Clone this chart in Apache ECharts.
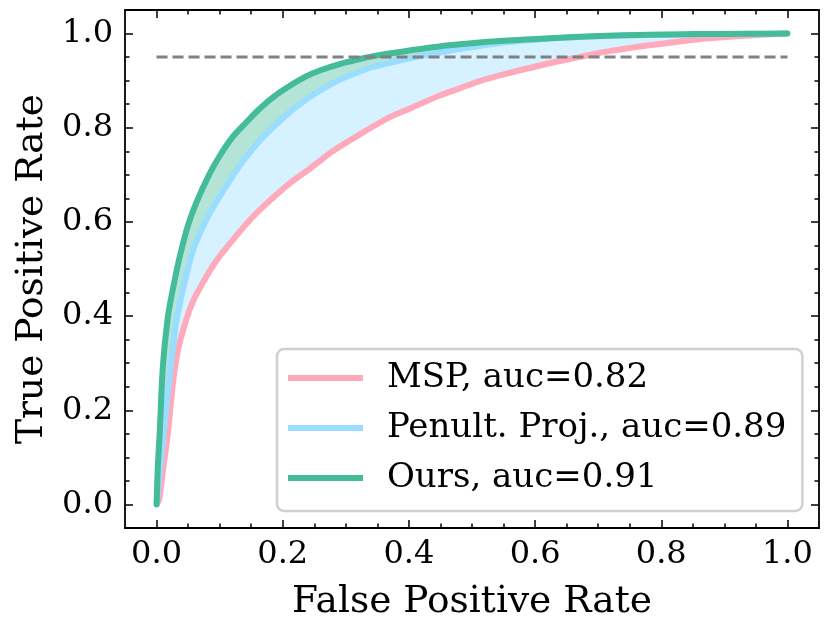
<!DOCTYPE html>
<html>
<head>
<meta charset="utf-8">
<script src="https://cdn.jsdelivr.net/npm/echarts@6/dist/echarts.min.js"></script>
<style>
html,body{margin:0;padding:0;background:#fff;}
#chart{width:831px;height:632px;}
</style>
</head>
<body>
<div id="chart"></div>
<script>
// ---- data ----
const mspFPR = [0, 0.004, 0.011, 0.018, 0.026, 0.034, 0.047, 0.058, 0.073, 0.095, 0.121, 0.152, 0.180, 0.211, 0.242, 0.279, 0.310, 0.332, 0.369, 0.400, 0.448, 0.475, 0.510, 0.544, 0.570, 0.623, 0.670, 0.702, 0.781, 0.860, 0.887, 0.940, 1.0];
const mspTPR = [0, 0.01, 0.08, 0.152, 0.257, 0.328, 0.392, 0.432, 0.470, 0.518, 0.562, 0.610, 0.646, 0.682, 0.712, 0.750, 0.776, 0.794, 0.822, 0.840, 0.868, 0.881, 0.898, 0.911, 0.920, 0.937, 0.950, 0.959, 0.975, 0.988, 0.991, 0.996, 1.0];

const penFPR = [0, 0.005, 0.0115, 0.017, 0.023, 0.031, 0.042, 0.058, 0.079, 0.100, 0.132, 0.163, 0.184, 0.210, 0.237, 0.260, 0.290, 0.320, 0.343, 0.396, 0.430, 0.475, 0.544, 0.623, 0.702, 0.780, 0.860, 0.940, 1.0];
const penTPR = [0, 0.07, 0.152, 0.225, 0.300, 0.385, 0.458, 0.541, 0.605, 0.654, 0.720, 0.772, 0.800, 0.832, 0.860, 0.880, 0.902, 0.918, 0.929, 0.946, 0.955, 0.966, 0.980, 0.989, 0.994, 0.997, 0.9985, 0.9995, 1.0];

const oursFPR = [0, 0.002, 0.005, 0.010, 0.018, 0.026, 0.036, 0.050, 0.063, 0.084, 0.100, 0.121, 0.142, 0.160, 0.184, 0.210, 0.237, 0.260, 0.290, 0.320, 0.343, 0.396, 0.464, 0.544, 0.623, 0.702, 0.780, 0.860, 0.940, 1.0];
const oursTPR = [0, 0.08, 0.152, 0.293, 0.399, 0.458, 0.522, 0.593, 0.641, 0.702, 0.740, 0.781, 0.811, 0.836, 0.864, 0.888, 0.909, 0.922, 0.935, 0.945, 0.952, 0.963, 0.975, 0.984, 0.990, 0.995, 0.9975, 0.9988, 0.9996, 1.0];

const seriesNames = ['MSP, auc=0.82', 'Penult. Proj., auc=0.89', 'Ours, auc=0.91'];
const refX = [0, 1];
const refY = [0.95, 0.95];

const majorTicks = [0, 0.2, 0.4, 0.6, 0.8, 1.0];
const minorTicks = [0.05, 0.1, 0.15, 0.25, 0.3, 0.35, 0.45, 0.5, 0.55, 0.65, 0.7, 0.75, 0.85, 0.9, 0.95];
const axisMin = -0.05, axisMax = 1.05;

// ---- helpers ----
const zip = (xs, ys) => xs.map((x, i) => [x, ys[i]]);
const msp = zip(mspFPR, mspTPR);
const pen = zip(penFPR, penTPR);
const ours = zip(oursFPR, oursTPR);

const FONT = 'DejaVu Serif';
const cPink = '#FFAABB', cBlue = '#99DDFF', cGreen = '#44BB99';
const SMOOTH = 0.25;

function band(upper, lower, fill) {
  return {
    type: 'custom',
    coordinateSystem: 'cartesian2d',
    xAxisIndex: 0, yAxisIndex: 0,
    silent: true,
    z: 1,
    data: [[0, 0]],
    clip: true,
    renderItem: function (params, api) {
      const up = upper.map(p => api.coord(p));
      const lo = lower.slice().reverse().map(p => api.coord(p));
      return {
        type: 'group',
        children: [
          { type: 'polyline', shape: { points: up.concat(lo), smooth: SMOOTH }, style: { fill: fill, stroke: null } }
        ]
      };
    }
  };
}

function xAx(pos, ticks, len, showLine, showLabel) {
  return {
    type: 'value', position: pos, min: axisMin, max: axisMax,
    splitLine: { show: false },
    axisLine: { show: showLine, onZero: false, lineStyle: { color: '#000', width: 1.8 } },
    axisTick: { show: true, inside: true, length: len, customValues: ticks, lineStyle: { color: '#000', width: 1.5 } },
    axisLabel: showLabel ? { show: true, customValues: ticks, formatter: v => v.toFixed(1), fontFamily: FONT, fontSize: 32, color: '#000', margin: 11 } : { show: false },
    name: showLabel ? 'False Positive Rate' : '',
    nameLocation: 'middle', nameGap: 55,
    nameTextStyle: { fontFamily: FONT, fontSize: 37.5, color: '#000' }
  };
}
function yAx(pos, ticks, len, showLine, showLabel) {
  return {
    type: 'value', position: pos, min: axisMin, max: axisMax,
    splitLine: { show: false },
    axisLine: { show: showLine, onZero: false, lineStyle: { color: '#000', width: 1.8 } },
    axisTick: { show: true, inside: true, length: len, customValues: ticks, lineStyle: { color: '#000', width: 1.5 } },
    axisLabel: showLabel ? { show: true, customValues: ticks, formatter: v => v.toFixed(1), fontFamily: FONT, fontSize: 32, color: '#000', margin: 12 } : { show: false },
    name: showLabel ? 'True Positive Rate' : '',
    nameLocation: 'middle', nameGap: 70, nameRotate: 90,
    nameTextStyle: { fontFamily: FONT, fontSize: 37.5, color: '#000' }
  };
}

const chart = echarts.init(document.getElementById('chart'), null, { renderer: 'canvas' });
chart.setOption({
  animation: false,
  backgroundColor: '#fff',
  grid: { left: 125, right: 12, top: 10, bottom: 104, containLabel: false },
  xAxis: [
    xAx('bottom', majorTicks, 8, true, true),
    xAx('bottom', minorTicks, 4.5, false, false),
    xAx('top', majorTicks, 8, true, false),
    xAx('top', minorTicks, 4.5, false, false)
  ],
  yAxis: [
    yAx('left', majorTicks, 8, true, true),
    yAx('left', minorTicks, 4.5, false, false),
    yAx('right', majorTicks, 8, true, false),
    yAx('right', minorTicks, 4.5, false, false)
  ],
  legend: {
    orient: 'vertical',
    left: 277, top: 349,
    data: seriesNames.map(n => ({ name: n, icon: 'rect' })),
    itemWidth: 75, itemHeight: 6, itemGap: 15,
    padding: [11.5, 16, 15.5, 11],
    backgroundColor: '#fff',
    borderColor: '#d0d0d0', borderWidth: 2.5, borderRadius: 7,
    textStyle: { fontFamily: FONT, fontSize: 34, color: '#000', lineHeight: 35, padding: [0, 0, 0, 19] },
    selectedMode: false
  },
  series: [
    band(pen, msp, 'rgba(153,221,255,0.4)'),
    band(ours, pen, 'rgba(68,187,153,0.4)'),
    { name: seriesNames[0], type: 'line', data: msp, showSymbol: false, symbol: 'none', z: 3, smooth: SMOOTH,
      itemStyle: { color: cPink }, lineStyle: { color: cPink, width: 6 } },
    { name: seriesNames[1], type: 'line', data: pen, showSymbol: false, symbol: 'none', z: 4, smooth: SMOOTH,
      itemStyle: { color: cBlue }, lineStyle: { color: cBlue, width: 6 } },
    { name: seriesNames[2], type: 'line', data: ours, showSymbol: false, symbol: 'none', z: 5, smooth: SMOOTH,
      itemStyle: { color: cGreen }, lineStyle: { color: cGreen, width: 6, cap: 'round' } },
    { name: 'ref', type: 'line', data: zip(refX, refY), showSymbol: false, symbol: 'none', z: 6, silent: true,
      lineStyle: { color: '#808080', width: 3, type: [11, 5] } }
  ]
});
</script>
</body>
</html>
